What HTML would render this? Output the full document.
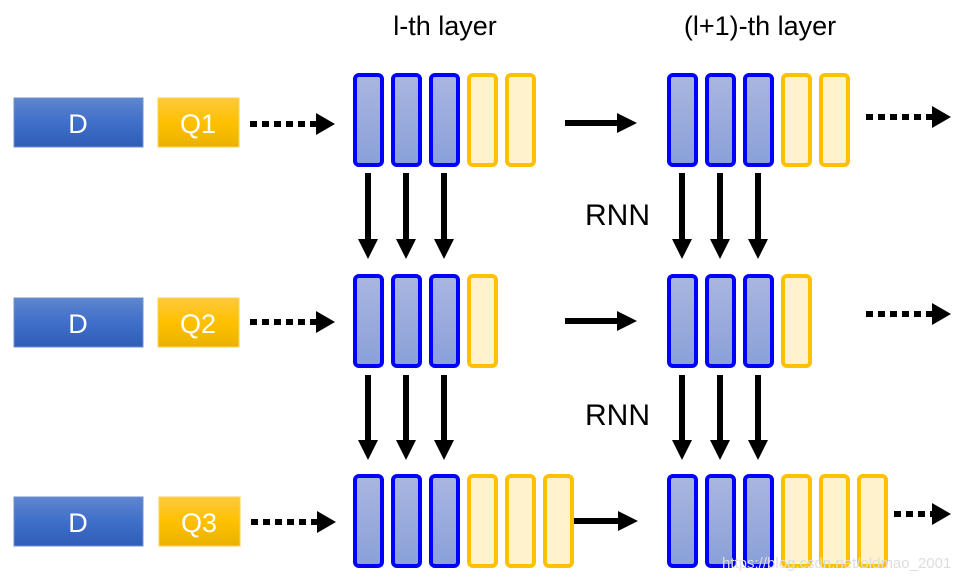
<!DOCTYPE html>
<html><head><meta charset="utf-8"><style>
html,body{margin:0;padding:0;background:#fff;width:976px;height:581px;overflow:hidden}
text{font-family:"Liberation Sans",sans-serif}
.b{fill:url(#gb);stroke:#0000ff;stroke-width:4}
.y{fill:#fff2cc;stroke:#ffc000;stroke-width:4}
.ln{stroke:#000;stroke-width:6}
.dl{stroke:#000;stroke-width:6;stroke-dasharray:7,5}
</style></head><body>
<svg width="976" height="581" viewBox="0 0 976 581" xmlns="http://www.w3.org/2000/svg">
<defs>
<linearGradient id="gd" x1="0" y1="0" x2="0" y2="1"><stop offset="0" stop-color="#5f86cf"/><stop offset="0.5" stop-color="#3f6fc9"/><stop offset="1" stop-color="#2f5db8"/></linearGradient>
<linearGradient id="gq" x1="0" y1="0" x2="0" y2="1"><stop offset="0" stop-color="#ffc93c"/><stop offset="0.5" stop-color="#ffc000"/><stop offset="1" stop-color="#e9b200"/></linearGradient>
<linearGradient id="gb" x1="0" y1="0" x2="0" y2="1"><stop offset="0" stop-color="#a9b6e0"/><stop offset="1" stop-color="#8aa0d9"/></linearGradient>
</defs>

<text x="445" y="35" font-size="27" text-anchor="middle">l-th layer</text>
<text x="760" y="35" font-size="27" text-anchor="middle">(l+1)-th layer</text>
<text x="585" y="225" font-size="30">RNN</text>
<text x="585" y="425" font-size="30">RNN</text>

<!-- D/Q boxes -->
<rect x="14" y="98" width="129" height="49" fill="url(#gd)" stroke="#6e8fd0"/>
<text x="78" y="133" font-size="27" fill="#fff" text-anchor="middle">D</text>
<rect x="158" y="98" width="81" height="49" fill="url(#gq)" stroke="#ffd24d"/>
<text x="198" y="133" font-size="27" fill="#fff" text-anchor="middle">Q1</text>
<rect x="14" y="298" width="129" height="49" fill="url(#gd)" stroke="#6e8fd0"/>
<text x="78" y="333" font-size="27" fill="#fff" text-anchor="middle">D</text>
<rect x="158" y="298" width="81" height="49" fill="url(#gq)" stroke="#ffd24d"/>
<text x="198" y="333" font-size="27" fill="#fff" text-anchor="middle">Q2</text>
<rect x="14" y="497" width="129" height="49" fill="url(#gd)" stroke="#6e8fd0"/>
<text x="78" y="532" font-size="27" fill="#fff" text-anchor="middle">D</text>
<rect x="159" y="497" width="81" height="49" fill="url(#gq)" stroke="#ffd24d"/>
<text x="199" y="532" font-size="27" fill="#fff" text-anchor="middle">Q3</text>

<!-- row 1 bars -->
<rect class="b" x="355" y="75" width="27" height="90" rx="4"/>
<rect class="b" x="393" y="75" width="27" height="90" rx="4"/>
<rect class="b" x="431" y="75" width="27" height="90" rx="4"/>
<rect class="y" x="469" y="75" width="27" height="90" rx="4"/>
<rect class="y" x="507" y="75" width="27" height="90" rx="4"/>
<rect class="b" x="669" y="75" width="27" height="90" rx="4"/>
<rect class="b" x="707" y="75" width="27" height="90" rx="4"/>
<rect class="b" x="745" y="75" width="27" height="90" rx="4"/>
<rect class="y" x="783" y="75" width="27" height="90" rx="4"/>
<rect class="y" x="821" y="75" width="27" height="90" rx="4"/>
<!-- row 2 bars -->
<rect class="b" x="355" y="276" width="27" height="90" rx="4"/>
<rect class="b" x="393" y="276" width="27" height="90" rx="4"/>
<rect class="b" x="431" y="276" width="27" height="90" rx="4"/>
<rect class="y" x="469" y="276" width="27" height="90" rx="4"/>
<rect class="b" x="669" y="276" width="27" height="90" rx="4"/>
<rect class="b" x="707" y="276" width="27" height="90" rx="4"/>
<rect class="b" x="745" y="276" width="27" height="90" rx="4"/>
<rect class="y" x="783" y="276" width="27" height="90" rx="4"/>
<!-- row 3 bars -->
<rect class="b" x="355" y="476" width="27" height="90" rx="4"/>
<rect class="b" x="393" y="476" width="27" height="90" rx="4"/>
<rect class="b" x="431" y="476" width="27" height="90" rx="4"/>
<rect class="y" x="469" y="476" width="27" height="90" rx="4"/>
<rect class="y" x="507" y="476" width="27" height="90" rx="4"/>
<rect class="y" x="545" y="476" width="27" height="90" rx="4"/>
<rect class="b" x="669" y="476" width="27" height="90" rx="4"/>
<rect class="b" x="707" y="476" width="27" height="90" rx="4"/>
<rect class="b" x="745" y="476" width="27" height="90" rx="4"/>
<rect class="y" x="783" y="476" width="27" height="90" rx="4"/>
<rect class="y" x="821" y="476" width="27" height="90" rx="4"/>
<rect class="y" x="859" y="476" width="27" height="90" rx="4"/>

<!-- dotted arrows -->
<line class="dl" x1="250" y1="124" x2="317" y2="124"/><polygon points="316,113 335,124 316,135"/>
<line class="dl" x1="250" y1="322" x2="317" y2="322"/><polygon points="316,311 335,322 316,333"/>
<line class="dl" x1="251" y1="522" x2="318" y2="522"/><polygon points="317,511 336,522 317,533"/>
<line class="dl" x1="866" y1="117" x2="933" y2="117"/><polygon points="932,106 951,117 932,128"/>
<line class="dl" x1="866" y1="314" x2="933" y2="314"/><polygon points="932,303 951,314 932,325"/>
<line class="dl" x1="894" y1="514" x2="933" y2="514"/><polygon points="932,503 951,514 932,525"/>

<!-- solid horizontal arrows -->
<line class="ln" x1="565" y1="123" x2="619" y2="123"/><polygon points="617,113 637,123 617,133"/>
<line class="ln" x1="565" y1="321" x2="619" y2="321"/><polygon points="617,311 637,321 617,331"/>
<line class="ln" x1="574" y1="521" x2="620" y2="521"/><polygon points="618,511 638,521 618,531"/>

<!-- down arrows -->
<line class="ln" x1="368" y1="173" x2="368" y2="241"/><polygon points="358,239 368,259 378,239"/>
<line class="ln" x1="406" y1="173" x2="406" y2="241"/><polygon points="396,239 406,259 416,239"/>
<line class="ln" x1="444" y1="173" x2="444" y2="241"/><polygon points="434,239 444,259 454,239"/>
<line class="ln" x1="682" y1="173" x2="682" y2="241"/><polygon points="672,239 682,259 692,239"/>
<line class="ln" x1="720" y1="173" x2="720" y2="241"/><polygon points="710,239 720,259 730,239"/>
<line class="ln" x1="758" y1="173" x2="758" y2="241"/><polygon points="748,239 758,259 768,239"/>
<line class="ln" x1="368" y1="375" x2="368" y2="442"/><polygon points="358,440 368,460 378,440"/>
<line class="ln" x1="406" y1="375" x2="406" y2="442"/><polygon points="396,440 406,460 416,440"/>
<line class="ln" x1="444" y1="375" x2="444" y2="442"/><polygon points="434,440 444,460 454,440"/>
<line class="ln" x1="682" y1="375" x2="682" y2="442"/><polygon points="672,440 682,460 692,440"/>
<line class="ln" x1="720" y1="375" x2="720" y2="442"/><polygon points="710,440 720,460 730,440"/>
<line class="ln" x1="758" y1="375" x2="758" y2="442"/><polygon points="748,440 758,460 768,440"/>

<text x="722" y="568" font-size="15" fill="#ddd">https://blog.csdn.net/oldmao_2001</text>
</svg>
</body></html>
